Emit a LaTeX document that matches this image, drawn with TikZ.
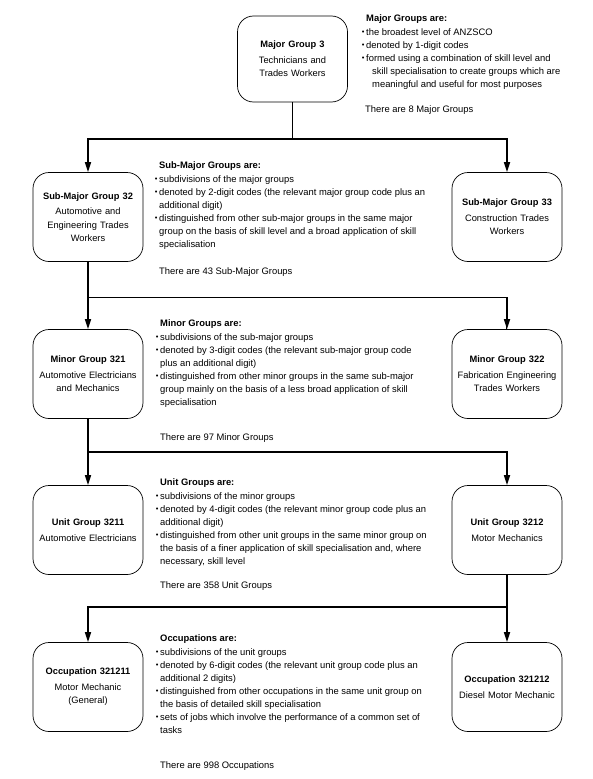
\documentclass[tikz,border=0pt]{standalone}
\usepackage{fontspec}
\setmainfont{Liberation Sans}
\usepackage{tikz}
\usetikzlibrary{arrows.meta, positioning}
\tikzset{
  group/.style={rectangle, draw=black, rounded corners=16pt, line width=0.7pt,
    minimum width=110pt, minimum height=89pt, text width=108pt,
    align=center, inner sep=1pt, font=\fontsize{9.3}{13.5}\selectfont},
  info/.style={anchor=north west, align=left, inner sep=0pt,
    font=\fontsize{9.4}{13}\selectfont},
  count/.style={anchor=base west, inner sep=0pt,
    font=\fontsize{9.4}{13}\selectfont},
  arrow/.style={-{Triangle[length=10pt,width=6pt]}, line width=1.6pt},
  line/.style={line width=1.6pt},
  thinline/.style={line width=0.8pt}
}
\newcommand{\bul}{\llap{\raisebox{0.6pt}{\fontsize{7.5}{7.5}\selectfont\textbullet}\hspace{1.8pt}}}
\newcommand{\ind}{\hspace{6pt}}

\begin{document}
\begin{tikzpicture}[x=1pt, y=-1pt]
  \useasboundingbox (0,0) rectangle (592,779);

  % Major group
  \node[group, minimum width=109pt, minimum height=86pt] (mg3) at (292.5,59)
    {\textbf{Major Group 3}\\[2pt]Technicians and\\Trades Workers};
  \node[info] (mgtxt) at (366,14) {\textbf{Major Groups are:}\\[1pt]
    \bul the broadest level of ANZSCO\\
    \bul denoted by 1-digit codes\\
    \bul formed using a combination of skill level and\\
    \ind skill specialisation to create groups which are\\
    \ind meaningful and useful for most purposes};
  \node[count] (mgnum) at (365,112) {There are 8 Major Groups};

  % Sub-major groups
  \node[group] (smg32) at (88,217)
    {\textbf{Sub-Major Group 32}\\[2pt]Automotive and\\Engineering Trades\\Workers};
  \node[group] (smg33) at (507,217)
    {\textbf{Sub-Major Group 33}\\[2pt]Construction Trades\\Workers};
  \node[info] (smgtxt) at (159,161) {\textbf{Sub-Major Groups are:}\\[1pt]
    \bul subdivisions of the major groups\\
    \bul denoted by 2-digit codes (the relevant major group code plus an\\
    additional digit)\\
    \bul distinguished from other sub-major groups in the same major\\
    group on the basis of skill level and a broad application of skill\\
    specialisation};
  \node[count] (smgnum) at (159,274) {There are 43 Sub-Major Groups};

  % Minor groups
  \node[group] (mig321) at (88,374)
    {\textbf{Minor Group 321}\\[2pt]Automotive Electricians\\and Mechanics};
  \node[group] (mig322) at (507,374)
    {\textbf{Minor Group 322}\\[2pt]Fabrication Engineering\\Trades Workers};
  \node[info] (migtxt) at (160,319) {\textbf{Minor Groups are:}\\[1pt]
    \bul subdivisions of the sub-major groups\\
    \bul denoted by 3-digit codes (the relevant sub-major group code\\
    plus an additional digit)\\
    \bul distinguished from other minor groups in the same sub-major\\
    group mainly on the basis of a less broad application of skill\\
    specialisation};
  \node[count] (mignum) at (160,440) {There are 97 Minor Groups};

  % Unit groups
  \node[group] (ug3211) at (88,530)
    {\textbf{Unit Group 3211}\\[2pt]Automotive Electricians};
  \node[group] (ug3212) at (507,530)
    {\textbf{Unit Group 3212}\\[2pt]Motor Mechanics};
  \node[info] (ugtxt) at (160,478) {\textbf{Unit Groups are:}\\[1pt]
    \bul subdivisions of the minor groups\\
    \bul denoted by 4-digit codes (the relevant minor group code plus an\\
    additional digit)\\
    \bul distinguished from other unit groups in the same minor group on\\
    the basis of a finer application of skill specialisation and, where\\
    necessary, skill level};
  \node[count] (ugnum) at (160,588) {There are 358 Unit Groups};

  % Occupations
  \node[group] (occ321211) at (88,687)
    {\textbf{Occupation 321211}\\[2pt]Motor Mechanic\\(General)};
  \node[group] (occ321212) at (507,687)
    {\textbf{Occupation 321212}\\[2pt]Diesel Motor Mechanic};
  \node[info] (occtxt) at (160,634) {\textbf{Occupations are:}\\[1pt]
    \bul subdivisions of the unit groups\\
    \bul denoted by 6-digit codes (the relevant unit group code plus an\\
    additional 2 digits)\\
    \bul distinguished from other occupations in the same unit group on\\
    the basis of detailed skill specialisation\\
    \bul sets of jobs which involve the performance of a common set of\\
    tasks};
  \node[count] (occnum) at (160,768) {There are 998 Occupations};

  % Connectors
  \coordinate (j1) at (292.5,139);
  \draw[thinline] (mg3.south) -- (j1);
  \draw[arrow] (j1) -| (smg32.north);
  \draw[arrow] (j1) -| (smg33.north);

  \coordinate (j2) at (88,297);
  \draw[arrow] (smg32.south) -- (mig321.north);
  \draw[thinline] (j2) -| ([xshift=-0.4pt]mig322.north);
  \draw[arrow] (mig322.north |- j2) -- (mig322.north);

  \coordinate (j3) at (88,452);
  \draw[arrow] (mig321.south) -- (ug3211.north);
  \draw[arrow] (j3) -| (ug3212.north);

  \coordinate (j4) at (507,607);
  \draw[arrow] (ug3212.south) -- (occ321212.north);
  \draw[arrow] (j4) -| (occ321211.north);
\end{tikzpicture}
\end{document}
